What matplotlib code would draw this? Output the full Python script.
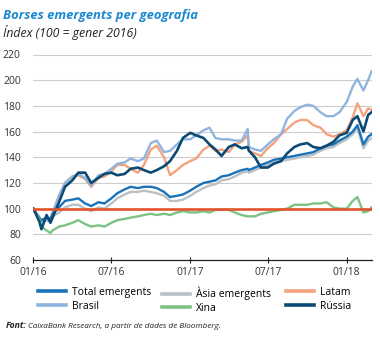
import matplotlib
matplotlib.use("Agg")
import matplotlib.pyplot as plt
import pandas as pd

# dates of the readings (roughly twice a month, plus a few turning points)
dates = pd.to_datetime([
    "2016-01-01", "2016-01-15", "2016-01-20", "2016-02-01", "2016-02-10", "2016-02-15",
    "2016-03-01", "2016-03-15", "2016-04-01", "2016-04-15", "2016-05-01", "2016-05-15",
    "2016-06-01", "2016-06-15", "2016-07-01", "2016-07-15", "2016-08-01", "2016-08-15",
    "2016-09-01", "2016-09-15", "2016-10-01", "2016-10-15", "2016-11-01", "2016-11-15",
    "2016-12-01", "2016-12-15",
    "2017-01-01", "2017-01-15", "2017-02-01", "2017-02-15", "2017-03-01", "2017-03-15",
    "2017-04-01", "2017-04-15", "2017-05-01", "2017-05-15", "2017-05-18", "2017-06-01",
    "2017-06-15", "2017-07-01", "2017-07-15", "2017-08-01", "2017-08-15", "2017-09-01",
    "2017-09-15", "2017-10-01", "2017-10-15", "2017-11-01", "2017-11-15", "2017-12-01",
    "2017-12-15",
    "2018-01-01", "2018-01-15", "2018-01-26", "2018-02-09", "2018-02-20", "2018-02-28",
])

total_emergents = [100, 93, 91, 93, 92, 96, 101, 106, 107, 108, 104, 102, 105, 104, 108, 112,
                   115, 117, 116, 117, 117, 116, 113, 109, 110, 111,
                   114, 117, 120, 121, 122, 125, 126, 128, 130, 131, 130, 132, 134, 136, 138,
                   139, 140, 141, 142, 143, 144, 147, 149, 150, 153,
                   156, 160, 165, 150, 156, 158]
asia_emergents = [100, 93, 91, 92, 91, 94, 97, 101, 103, 103, 100, 98, 101, 100, 104, 108,
                  111, 113, 113, 114, 113, 112, 110, 106, 106, 107,
                  110, 113, 116, 118, 119, 122, 123, 125, 128, 129, 128, 130, 132, 134, 136,
                  137, 138, 139, 140, 141, 142, 145, 147, 148, 151,
                  154, 158, 163, 147, 153, 155]
latam = [100, 93, 91, 92, 90, 96, 110, 120, 125, 126, 123, 117, 124, 125, 129, 134,
         134, 131, 128, 134, 146, 149, 140, 126, 130, 134,
         137, 139, 146, 149, 145, 146, 144, 150, 152, 157, 145, 143, 141, 147, 151,
         158, 162, 167, 169, 169, 165, 163, 158, 156, 158,
         161, 171, 182, 172, 178, 177]
brasil = [100, 92, 90, 91, 90, 97, 110, 120, 125, 127, 124, 118, 126, 127, 131, 135,
          136, 139, 137, 139, 151, 153, 144, 145, 150, 154,
          154, 157, 161, 163, 155, 154, 154, 153, 153, 162, 148, 146, 145, 150, 154,
          158, 170, 176, 179, 181, 180, 175, 172, 172, 175,
          183, 195, 201, 192, 200, 207]
xina = [100, 92, 86, 83, 81, 83, 86, 87, 89, 91, 88, 86, 87, 86, 89, 91,
        92, 93, 94, 95, 96, 95, 96, 95, 97, 98,
        97, 97, 98, 97, 99, 99, 99, 97, 95, 94, 94, 94, 96, 97, 98,
        99, 100, 103, 103, 103, 104, 104, 105, 101, 100,
        100, 106, 109, 97, 98, 101]
russia = [100, 90, 84, 95, 89, 93, 105, 117, 122, 128, 128, 120, 124, 127, 128, 126,
          127, 131, 132, 130, 128, 130, 133, 137, 145, 155,
          159, 157, 155, 150, 146, 141, 148, 150, 147, 148, 145, 140, 132, 132, 135,
          137, 143, 148, 150, 151, 148, 147, 149, 152, 157,
          159, 169, 172, 160, 173, 175]

base_value = 100
yticks = [60, 80, 100, 120, 140, 160, 180, 200, 220]
xticks = pd.to_datetime(["2016-01-01", "2016-07-01", "2017-01-01", "2017-07-01", "2018-01-01"])
xticklabels = ["01/16", "07/16", "01/17", "07/17", "01/18"]

c_total = "#1a72b9"
c_asia = "#b9c1c5"
c_latam = "#f4a27c"
c_brasil = "#8fb4e0"
c_xina = "#7cc285"
c_russia = "#0c4a73"
c_base = "#e2522b"

plt.rcParams["font.family"] = ["Open Sans", "DejaVu Sans"]

fig = plt.figure(figsize=(3.8, 3.38), dpi=100)
ax = fig.add_axes([33.3 / 380, 78 / 338, (372 - 33.3) / 380, (260 - 54.5) / 338])

lw = 1.7
l_latam, = ax.plot(dates, latam, color=c_latam, lw=lw, label="Latam", zorder=3)
l_brasil, = ax.plot(dates, brasil, color=c_brasil, lw=lw, label="Brasil", zorder=3)
l_asia, = ax.plot(dates, asia_emergents, color=c_asia, lw=lw, label="Àsia emergents", zorder=3)
l_total, = ax.plot(dates, total_emergents, color=c_total, lw=lw, label="Total emergents", zorder=3)
l_xina, = ax.plot(dates, xina, color=c_xina, lw=lw, label="Xina", zorder=3)
l_russia, = ax.plot(dates, russia, color=c_russia, lw=lw + 0.2, label="Rússia", zorder=3)
ax.axhline(base_value, color=c_base, lw=1.9, zorder=4)

ax.set_xlim(pd.Timestamp("2016-01-01"), pd.Timestamp("2018-03-01"))
ax.set_ylim(60, 220)
ax.set_yticks(yticks)
ax.set_yticklabels([str(v) for v in yticks])
ax.set_xticks(xticks)
ax.set_xticklabels(xticklabels)
ax.grid(axis="y", color="#cccccc", lw=0.8, zorder=0)
for s in ["top", "right", "left"]:
    ax.spines[s].set_visible(False)
ax.spines["bottom"].set_color("#222222")
ax.spines["bottom"].set_linewidth(0.9)
ax.tick_params(axis="y", length=0, pad=9, labelsize=7.5, labelcolor="#333333")
ax.tick_params(axis="x", length=4, direction="inout", width=0.8, color="#222222",
               pad=3, labelsize=7.5, labelcolor="#333333")

fig.text(3 / 380, 1 - 15 / 338, "Borses emergents per geografia", fontsize=9.4,
         fontweight="bold", fontstyle="italic", color="#1c8ad2", va="center")
fig.text(3 / 380, 1 - 32 / 338, "Índex (100 = gener 2016)", fontsize=8.8,
         fontstyle="italic", color="#222222", va="center")

cols = [([l_total, l_brasil], 38), ([l_asia, l_xina], 162), ([l_latam, l_russia], 286)]
for handles, x0 in cols:
    leg = fig.legend(handles=handles, loc="upper left", bbox_to_anchor=(x0 / 380, 1 - 287 / 338),
                     frameon=False, fontsize=7.5, handlelength=2.7, handletextpad=0.6,
                     labelspacing=0.25, borderpad=0, borderaxespad=0)
    for line in leg.get_lines():
        line.set_linewidth(2.6)

# footer: bold "Font:" followed by the italic source text
src_y = 1 - 326 / 338
fig.text(6 / 380, src_y, "Font:", fontsize=6.2, fontweight="bold",
         fontstyle="italic", color="#222222", va="center")
fig.text(28 / 380, src_y, "CaixaBank Research, a partir de dades de Bloomberg.",
         fontsize=5.9, fontstyle="italic", color="#222222", va="center")

fig.savefig("out.png", dpi=100)
